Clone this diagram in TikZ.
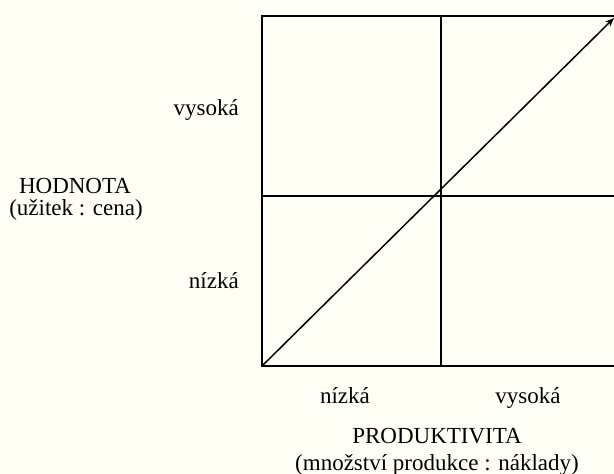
\documentclass[tikz,border=0pt]{standalone}
\usepackage{fontspec}
\setmainfont{Liberation Serif}
\usetikzlibrary{arrows.meta}
\definecolor{bg}{HTML}{FFFFF5}
\begin{document}
\begin{tikzpicture}[x=1pt,y=-1pt,
  grid/.style={line width=1.5pt,black},
  lbl/.style={font=\fontsize{23}{27}\selectfont,inner sep=0pt,anchor=base}]
\fill[bg] (0,0) rectangle (614,474);
\useasboundingbox (0,0) rectangle (614,474);
\coordinate (tl) at (262,16);
\coordinate (tm) at (441,16);
\coordinate (tr) at (614,16);
\coordinate (ml) at (262,196);
\coordinate (mr) at (614,196);
\coordinate (bl) at (262,366);
\coordinate (bm) at (441,366);
\coordinate (br) at (614,366);
\coordinate (tip) at (614,18);
\draw[grid] (tr) -- (tl) -- (bl) -- (br);
\draw[grid] (tm) -- (bm);
\draw[grid] (ml) -- (mr);
\draw[grid,-{Stealth[length=9pt,width=7pt]}] (bl) -- (tip);
\node[lbl,anchor=base east] (vy) at (239,115) {vysoká};
\node[lbl,anchor=base east] (ni) at (239,288) {nízká};
\node[lbl] (hod) at (75,193) {HODNOTA};
\node[lbl] (uz) at (76,215) {(užitek : cena)};
\node[lbl] (nx) at (345,403) {nízká};
\node[lbl] (vx) at (528,403) {vysoká};
\node[lbl] (prod) at (437,443) {PRODUKTIVITA};
\node[lbl] (mn) at (437,470) {(množství produkce : náklady)};
\end{tikzpicture}
\end{document}
